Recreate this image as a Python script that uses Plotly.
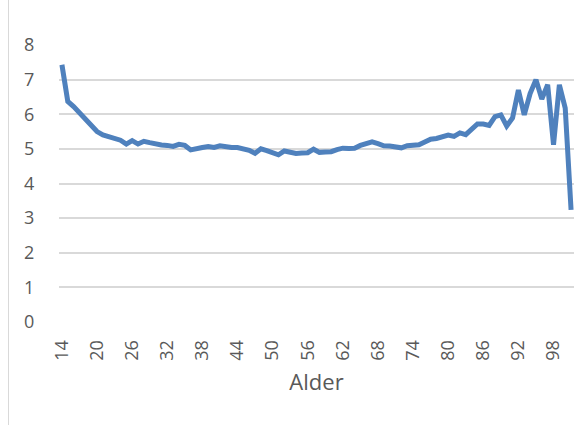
import plotly.graph_objects as go

ages = list(range(14, 102))
values = [
    7.43, 6.37, 6.22, 6.03, 5.89, 5.69, 5.50, 5.40, 5.34, 5.31,   # 14-23
    5.25, 5.14, 5.24, 5.14, 5.22, 5.18, 5.13, 5.11, 5.10, 5.07,   # 24-33
    5.13, 5.10, 4.97, 4.99, 5.04, 5.07, 5.04, 5.09, 5.05, 5.04,   # 34-43
    5.04, 5.00, 4.96, 4.87, 5.00, 4.95, 4.88, 4.83, 4.94, 4.90,   # 44-53
    4.87, 4.88, 4.89, 4.99, 4.90, 4.91, 4.92, 4.98, 5.02, 5.01,   # 54-63
    5.02, 5.10, 5.16, 5.20, 5.15, 5.09, 5.08, 5.05, 5.03, 5.09,   # 64-73
    5.10, 5.12, 5.20, 5.28, 5.30, 5.34, 5.40, 5.36, 5.46, 5.41,   # 74-83
    5.58, 5.72, 5.72, 5.68, 5.93, 5.98, 5.66, 5.89, 6.70, 5.98,   # 84-93
    6.60, 7.00, 6.44, 6.85, 5.12, 6.85, 6.18, 3.24,               # 94-101
]
x_ticks = list(range(14, 100, 6))
y_ticks = list(range(0, 9))

fig = go.Figure()
fig.add_trace(go.Scatter(
    x=ages, y=values, mode="lines",
    line=dict(color="#4F81BD", width=5),
    hoverinfo="skip", showlegend=False,
))

font_family = "Open Sans, Noto Sans, sans-serif"
fig.update_layout(
    width=578, height=425,
    margin=dict(l=59, r=4, t=45, b=103),
    paper_bgcolor="white", plot_bgcolor="white",
    font=dict(family=font_family, color="#595959", size=18),
    xaxis=dict(
        range=[13.5, 101.5], tickmode="array", tickvals=x_ticks,
        ticktext=[str(t) for t in x_ticks], tickangle=-90,
        showgrid=False, zeroline=False, showline=False,
        ticks="outside", ticklen=10, tickcolor="rgba(0,0,0,0)",
        tickfont=dict(size=18), automargin=False,
        title=dict(text="Alder", font=dict(size=22), standoff=14),
    ),
    yaxis=dict(
        range=[0, 8], tickmode="array", tickvals=y_ticks,
        showgrid=True, gridcolor="#D9D9D9", gridwidth=1.5,
        zeroline=False, showline=False,
        ticks="outside", ticklen=20, tickcolor="rgba(0,0,0,0)",
        tickfont=dict(size=18), automargin=False,
    ),
    shapes=[dict(
        type="line", xref="paper", yref="paper",
        x0=-0.098, x1=-0.098, y0=-0.4, y1=1.2,
        line=dict(color="#D9D9D9", width=1),
    )],
)

fig.write_html(
    "out.html",
    config={"displayModeBar": False},
    post_script="document.body.style.margin='0';document.body.style.overflow='hidden';",
)
